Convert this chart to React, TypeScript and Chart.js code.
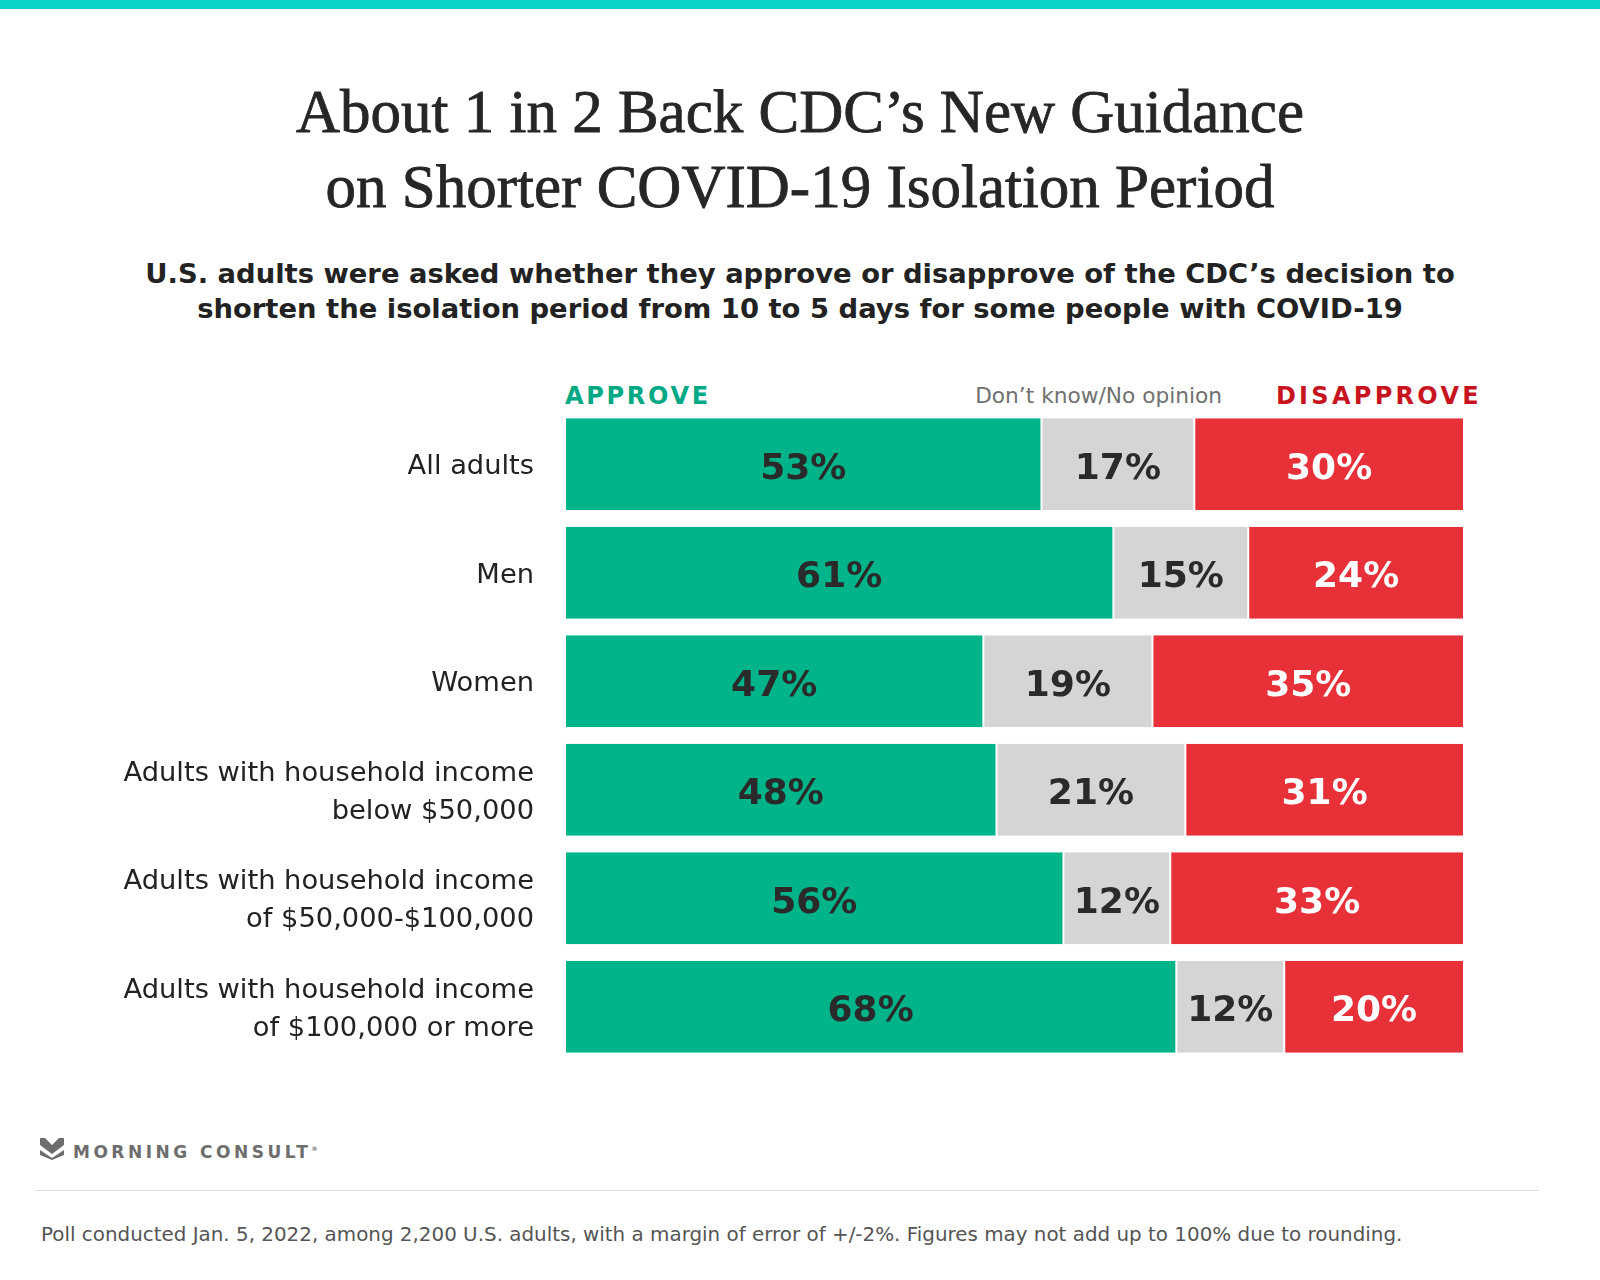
import React, { useEffect, useRef } from "react";
import { Chart, registerables } from "chart.js";

Chart.register(...registerables);

const categories: (string | string[])[] = [
  "All adults",
  "Men",
  "Women",
  ["Adults with household income", "below $50,000"],
  ["Adults with household income", "of $50,000-$100,000"],
  ["Adults with household income", "of $100,000 or more"],
];
const approve = [53, 61, 47, 48, 56, 68];
const dontKnow = [17, 15, 19, 21, 12, 12];
const disapprove = [30, 24, 35, 31, 33, 20];

const seriesNames = ["Approve", "Don’t know/No opinion", "Disapprove"];
const seriesColors = ["#00b48a", "#d5d5d5", "#e83038"];
const labelColors = ["#2a2a2a", "#2a2a2a", "#ffffff"];

const SANS = "'DejaVu Sans', Verdana, sans-serif";

export default function App() {
  const canvasRef = useRef<HTMLCanvasElement | null>(null);

  useEffect(() => {
    if (!canvasRef.current) return;
    const raw = [approve, dontKnow, disapprove];
    const totals = approve.map((_, i) => approve[i] + dontKnow[i] + disapprove[i]);

    const valueLabels = {
      id: "valueLabels",
      afterDatasetsDraw(chart: any) {
        const ctx = chart.ctx;
        ctx.save();
        ctx.font = `bold 36px ${SANS}`;
        ctx.textAlign = "center";
        ctx.textBaseline = "middle";
        chart.data.datasets.forEach((ds: any, di: number) => {
          const meta = chart.getDatasetMeta(di);
          meta.data.forEach((el: any, i: number) => {
            ctx.fillStyle = labelColors[di];
            ctx.fillText(raw[di][i] + "%", (el.x + el.base) / 2, el.y + 5);
          });
        });
        ctx.restore();
      },
    };

    const chart = new Chart(canvasRef.current, {
      type: "bar",
      data: {
        labels: categories as any,
        datasets: raw.map((vals, di) => ({
          label: seriesNames[di],
          data: vals.map((v, i) => (v / totals[i]) * 100),
          backgroundColor: seriesColors[di],
          borderColor: "#ffffff",
          borderWidth: { left: 1, right: 1, top: 0, bottom: 0 },
          borderSkipped: false,
          barPercentage: 0.848,
          categoryPercentage: 1,
        })),
      },
      options: {
        indexAxis: "y",
        animation: false,
        responsive: false,
        maintainAspectRatio: false,
        layout: { padding: { left: 0, right: 136, top: 0, bottom: 0 } },
        plugins: {
          legend: { display: false },
          tooltip: { enabled: false },
          title: { display: false },
        },
        scales: {
          x: {
            stacked: true,
            min: 0,
            max: 100,
            display: false,
          },
          y: {
            stacked: true,
            grid: { display: false, drawTicks: false },
            border: { display: false },
            ticks: {
              color: "#222222",
              padding: 31,
              labelOffset: 3,
              font: { family: SANS, size: 27.3, lineHeight: 1.4 },
            },
            afterFit(scale: any) {
              scale.width = 565;
              scale.paddingTop = 0;
              scale.paddingBottom = 0;
            },
          },
        },
      },
      plugins: [valueLabels],
    });
    return () => chart.destroy();
  }, []);

  return (
    <div
      style={{
        position: "absolute",
        left: 0,
        top: 0,
        width: 1600,
        height: 1280,
        background: "#ffffff",
        overflow: "hidden",
      }}
    >
      <div style={{ position: "absolute", left: 0, top: 0, width: 1600, height: 9, background: "#0cd3c8" }} />
      <div
        style={{
          position: "absolute",
          left: 0,
          top: 74,
          width: 1600,
          textAlign: "center",
          fontFamily: "'Liberation Serif', 'Times New Roman', serif",
          fontSize: 61,
          lineHeight: "75px",
          color: "#262626",
          WebkitTextStroke: "0.8px #262626",
        }}
      >
        About 1 in 2 Back CDC’s New Guidance
        <br />
        on Shorter COVID-19 Isolation Period
      </div>
      <div
        style={{
          position: "absolute",
          left: 0,
          top: 256,
          width: 1600,
          textAlign: "center",
          fontFamily: SANS,
          fontWeight: "bold",
          fontSize: 27.4,
          lineHeight: "35px",
          color: "#222222",
          whiteSpace: "nowrap",
        }}
      >
        U.S. adults were asked whether they approve or disapprove of the CDC’s decision to
        <br />
        shorten the isolation period from 10 to 5 days for some people with COVID-19
      </div>
      <div
        style={{
          position: "absolute",
          left: 565,
          top: 381,
          fontFamily: SANS,
          fontWeight: "bold",
          fontSize: 24,
          letterSpacing: 2.7,
          color: "#00a883",
          lineHeight: "30px",
        }}
      >
        APPROVE
      </div>
      <div
        style={{
          position: "absolute",
          right: 1600 - 1222,
          top: 381,
          fontFamily: SANS,
          fontSize: 21.7,
          color: "#707070",
          lineHeight: "30px",
        }}
      >
        Don’t know/No opinion
      </div>
      <div
        style={{
          position: "absolute",
          right: 1600 - 1482,
          top: 381,
          fontFamily: SANS,
          fontWeight: "bold",
          fontSize: 24,
          letterSpacing: 3.3,
          color: "#c8141f",
          lineHeight: "30px",
        }}
      >
        DISAPPROVE
      </div>
      <canvas
        ref={canvasRef}
        width={1600}
        height={651}
        style={{ position: "absolute", left: 0, top: 410, width: 1600, height: 651 }}
      />
      <svg
        style={{ position: "absolute", left: 40, top: 1138 }}
        width={24}
        height={22}
        viewBox="0 0 24 22"
      >
        <polygon points="0,0 5,0 12,7 19,0 24,0 24,7 12,16 0,7" fill="#6d6d6d" />
        <polygon points="0,12 12,20 24,12 24,17 12,22 0,17" fill="#6d6d6d" />
      </svg>
      <div
        style={{
          position: "absolute",
          left: 73,
          top: 1137,
          fontFamily: SANS,
          fontWeight: "bold",
          fontSize: 17,
          letterSpacing: 3.5,
          color: "#6d6d6d",
          lineHeight: "24px",
          whiteSpace: "nowrap",
        }}
      >
        MORNING CONSULT<sup style={{ fontSize: 6, letterSpacing: 0 }}>®</sup>
      </div>
      <div style={{ position: "absolute", left: 36, top: 1190, width: 1503, height: 1, background: "#dcdcdc" }} />
      <div
        style={{
          position: "absolute",
          left: 41,
          top: 1222,
          fontFamily: SANS,
          fontSize: 19.9,
          color: "#555555",
          lineHeight: "26px",
          whiteSpace: "nowrap",
        }}
      >
        Poll conducted Jan. 5, 2022, among 2,200 U.S. adults, with a margin of error of +/-2%. Figures may not add up to 100% due to rounding.
      </div>
    </div>
  );
}
